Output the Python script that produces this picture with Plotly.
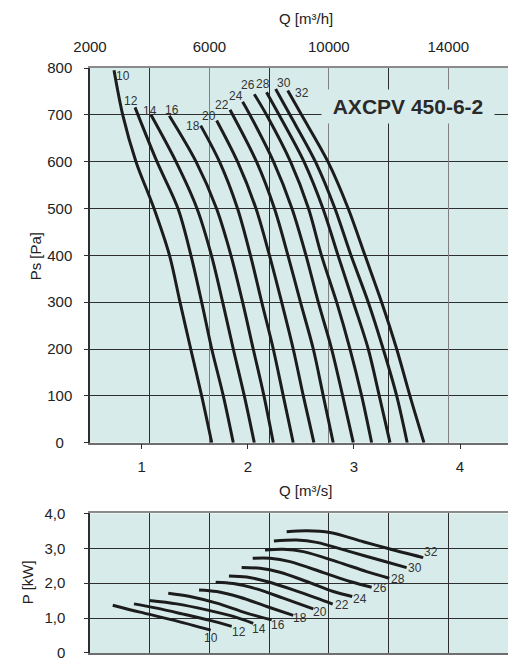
import plotly.graph_objects as go

# ---------------- data ----------------
angles = [10, 12, 14, 16, 18, 20, 22, 24, 26, 28, 30, 32]

# static pressure curves: flow [m3/s] and Ps [Pa]
ps_flow = [
    [0.739, 0.821, 0.946, 1.116, 1.262, 1.361, 1.462, 1.565, 1.660],
    [0.937, 1.144, 1.342, 1.464, 1.565, 1.660, 1.769, 1.863],
    [1.087, 1.323, 1.521, 1.657, 1.763, 1.863, 1.967, 2.061],
    [1.260, 1.512, 1.705, 1.841, 1.951, 2.051, 2.152, 2.240],
    [1.556, 1.733, 1.903, 2.025, 2.131, 2.240, 2.334, 2.428],
    [1.706, 1.903, 2.077, 2.204, 2.319, 2.428, 2.523, 2.623],
    [1.832, 2.082, 2.251, 2.378, 2.496, 2.617, 2.711, 2.805],
    [1.951, 2.020, 2.242, 2.416, 2.548, 2.664, 2.790, 2.894, 2.994],
    [2.061, 2.176, 2.402, 2.572, 2.694, 2.837, 2.963, 3.073, 3.167],
    [2.176, 2.294, 2.529, 2.708, 2.850, 2.994, 3.135, 3.239, 3.340],
    [2.262, 2.397, 2.637, 2.821, 2.972, 3.135, 3.276, 3.403, 3.502],
    [2.376, 2.506, 2.755, 2.946, 3.104, 3.261, 3.403, 3.528, 3.660],
]
ps_pressure = [
    [795, 700, 600, 500, 400, 300, 200, 100, 0],
    [716, 600, 500, 400, 300, 200, 100, 0],
    [700, 600, 500, 400, 300, 200, 100, 0],
    [698, 600, 500, 400, 300, 200, 100, 0],
    [677, 600, 500, 400, 300, 200, 100, 0],
    [688, 600, 500, 400, 300, 200, 100, 0],
    [711, 600, 500, 400, 300, 200, 100, 0],
    [728, 700, 600, 500, 400, 300, 200, 100, 0],
    [744, 700, 600, 500, 400, 300, 200, 100, 0],
    [748, 700, 600, 500, 400, 300, 200, 100, 0],
    [755, 700, 600, 500, 400, 300, 200, 100, 0],
    [752, 700, 600, 500, 400, 300, 200, 100, 0],
]

# shaft power curves: flow [m3/s] and P [kW]
pw_flow = [
    [0.727, 0.984, 1.298, 1.650],
    [0.927, 1.141, 1.392, 1.643, 1.848],
    [1.071, 1.330, 1.612, 1.863, 2.051],
    [1.250, 1.455, 1.707, 1.989, 2.225],
    [1.540, 1.707, 1.926, 2.178, 2.428],
    [1.697, 1.863, 2.083, 2.334, 2.491, 2.617],
    [1.822, 1.989, 2.178, 2.428, 2.649, 2.800],
    [1.942, 2.115, 2.303, 2.555, 2.805, 2.984],
    [2.046, 2.209, 2.397, 2.711, 2.963, 3.167],
    [2.162, 2.334, 2.523, 2.837, 3.120, 3.333],
    [2.246, 2.460, 2.649, 2.963, 3.276, 3.497],
    [2.366, 2.555, 2.774, 3.088, 3.339, 3.653],
]
pw_power = [
    [1.371, 1.171, 0.943, 0.657],
    [1.409, 1.286, 1.114, 0.934, 0.763],
    [1.506, 1.409, 1.237, 1.049, 0.849],
    [1.714, 1.620, 1.429, 1.143, 0.951],
    [1.809, 1.763, 1.600, 1.334, 1.077],
    [2.029, 1.991, 1.837, 1.571, 1.400, 1.266],
    [2.209, 2.180, 2.049, 1.809, 1.571, 1.400],
    [2.449, 2.429, 2.314, 2.049, 1.763, 1.620],
    [2.714, 2.714, 2.620, 2.306, 2.049, 1.886],
    [2.951, 2.971, 2.906, 2.620, 2.334, 2.143],
    [3.209, 3.237, 3.171, 2.906, 2.637, 2.449],
    [3.477, 3.506, 3.457, 3.191, 2.980, 2.734],
]

# axis ticks
q_s_ticks = [1, 2, 3, 4]
q_s_labels = ["1", "2", "3", "4"]
q_h_ticks = [2000, 6000, 10000, 14000]
q_h_labels = ["2000", "6000", "10000", "14000"]
q_h_minor = [4000, 8000, 12000, 16000]
ps_ticks = [0, 100, 200, 300, 400, 500, 600, 700, 800]
ps_labels = ["0\u2007", "100", "200", "300", "400", "500", "600", "700", "800"]
p_ticks = [0, 1, 2, 3, 4]
p_labels = ["0", "1,0", "2,0", "3,0", "4,0"]

title_text = "AXCPV 450-6-2"

# ---------------- styling (label offsets in px) ----------------
ps_label_shift = [(9, -6), (-4, 6), (-1, 4), (3, 6), (-8, 0), (-8, 4),
                  (-8, 5), (-7, 6), (-6, 9), (-3, 8), (8, 6), (14, -3)]
pw_label_shift = [(0, -8), (7, -6), (6, -6), (6, -5), (7, -3), (7, -3),
                  (9, -1), (8, -3), (8, -1), (9, -1), (8, 0), (8, 6)]

BG = "#d7ecea"
LINE = "#1c1c1c"
DARK = "#2e2e2e"
GREY = "#808080"
FONT = "Liberation Sans, Arial, sans-serif"

fig = go.Figure()

for a, q, p in zip(angles, ps_flow, ps_pressure):
    fig.add_trace(go.Scatter(x=q, y=p, mode="lines", xaxis="x", yaxis="y",
                             line=dict(color=LINE, width=3, shape="spline", smoothing=0.9),
                             hoverinfo="skip", name=str(a)))
for a, q, p in zip(angles, pw_flow, pw_power):
    fig.add_trace(go.Scatter(x=q, y=p, mode="lines", xaxis="x3", yaxis="y2",
                             line=dict(color=LINE, width=3, shape="spline", smoothing=0.9),
                             hoverinfo="skip", name=str(a)))
# helper traces so overlay axes (m3/h) are drawn
fig.add_trace(go.Scatter(x=[None], y=[None], xaxis="x2", yaxis="y", hoverinfo="skip"))
fig.add_trace(go.Scatter(x=[None], y=[None], xaxis="x4", yaxis="y2", hoverinfo="skip"))

lblfont = dict(size=12, color="#333", family=FONT)
ann = []
for a, q, p, (dx, dy) in zip(angles, ps_flow, ps_pressure, ps_label_shift):
    ann.append(dict(x=q[0], y=p[0], xref="x", yref="y", text=str(a), showarrow=False,
                    xanchor="center", yanchor="middle", xshift=dx, yshift=dy, font=lblfont))
for a, q, p, (dx, dy) in zip(angles, pw_flow, pw_power, pw_label_shift):
    ann.append(dict(x=q[-1], y=p[-1], xref="x3", yref="y2", text=str(a), showarrow=False,
                    xanchor="center", yanchor="middle", xshift=dx, yshift=dy, font=lblfont))

axfont = dict(size=15, color="#222", family=FONT)
ann += [
    dict(x=0.5167, y=1.0852, xref="paper", yref="paper", text="Q [m³/h]", showarrow=False,
         xanchor="center", yanchor="middle", font=axfont),
    dict(x=0.5167, y=0.2777, xref="paper", yref="paper", text="Q [m³/s]", showarrow=False,
         xanchor="center", yanchor="middle", font=axfont),
    dict(x=-0.1316, y=0.678, xref="paper", yref="paper", text="Ps [Pa]", showarrow=False,
         xanchor="center", yanchor="middle", textangle=-90, font=axfont),
    dict(x=-0.1507, y=0.121, xref="paper", yref="paper", text="P [kW]", showarrow=False,
         xanchor="center", yanchor="middle", textangle=-90, font=axfont),
    dict(x=0.7596, y=0.9344, xref="paper", yref="paper", text="<b>" + title_text + "</b>",
         showarrow=False, xanchor="center", yanchor="middle", bgcolor=BG, width=170, height=31,
         font=dict(size=21, color="#2a2a2a", family=FONT)),
]

tickfont = dict(size=15, color="#222", family=FONT)

fig.update_layout(
    width=508, height=661,
    margin=dict(l=90, r=0, t=68, b=6),
    plot_bgcolor=BG, paper_bgcolor="white",
    showlegend=False,
    font=dict(family=FONT, size=15, color="#222"),
    annotations=ann,
    xaxis=dict(domain=[0, 1], anchor="y", range=[0.5127, 4.452],
               tickvals=q_s_ticks, ticktext=q_s_labels, ticks="outside", ticklen=5,
               tickcolor=DARK, showgrid=False, zeroline=False, showline=True,
               linecolor="#6e6e6e", linewidth=1.5, tickfont=tickfont, ticklabelstandoff=5),
    xaxis2=dict(overlaying="x", side="top", anchor="y", range=[2000, 16000],
                tickvals=q_h_ticks, ticktext=q_h_labels, ticks="",
                showgrid=True, gridcolor=GREY, gridwidth=1,
                minor=dict(tickvals=q_h_minor, showgrid=True, gridcolor=DARK, gridwidth=1),
                zeroline=False, showline=True, linecolor="#8a8a8a", linewidth=1.5,
                tickfont=tickfont, ticklabelstandoff=8, ticklabeloverflow="allow"),
    yaxis=dict(domain=[0.3595, 1], anchor="x", range=[0, 800],
               tickvals=ps_ticks, ticktext=ps_labels, ticks="outside", ticklen=4,
               tickcolor=DARK, showgrid=True, gridcolor=DARK, gridwidth=1,
               zeroline=False, showline=True, linecolor=DARK, linewidth=1.5,
               tickfont=tickfont, ticklabelstandoff=9, ticklabeloverflow="allow"),
    xaxis3=dict(domain=[0, 1], anchor="y2", range=[0.5127, 4.452],
                showticklabels=False, ticks="", showgrid=False, zeroline=False,
                showline=True, linecolor="#6e6e6e", linewidth=2),
    xaxis4=dict(overlaying="x3", side="top", anchor="y2", range=[2000, 16000],
                dtick=2000, tick0=2000, showticklabels=False, ticks="",
                showgrid=True, gridcolor=DARK, gridwidth=1, zeroline=False,
                showline=True, linecolor="#8a8a8a", linewidth=1.5),
    yaxis2=dict(domain=[0, 0.2385], anchor="x3", range=[0, 4],
                tickvals=p_ticks, ticktext=p_labels, ticks="outside", ticklen=4,
                tickcolor=DARK, showgrid=True, gridcolor=DARK, gridwidth=1,
                zeroline=False, showline=True, linecolor=DARK, linewidth=1.5,
                tickfont=tickfont, ticklabelstandoff=16, ticklabeloverflow="allow"),
)

fig.write_html("out.html")
